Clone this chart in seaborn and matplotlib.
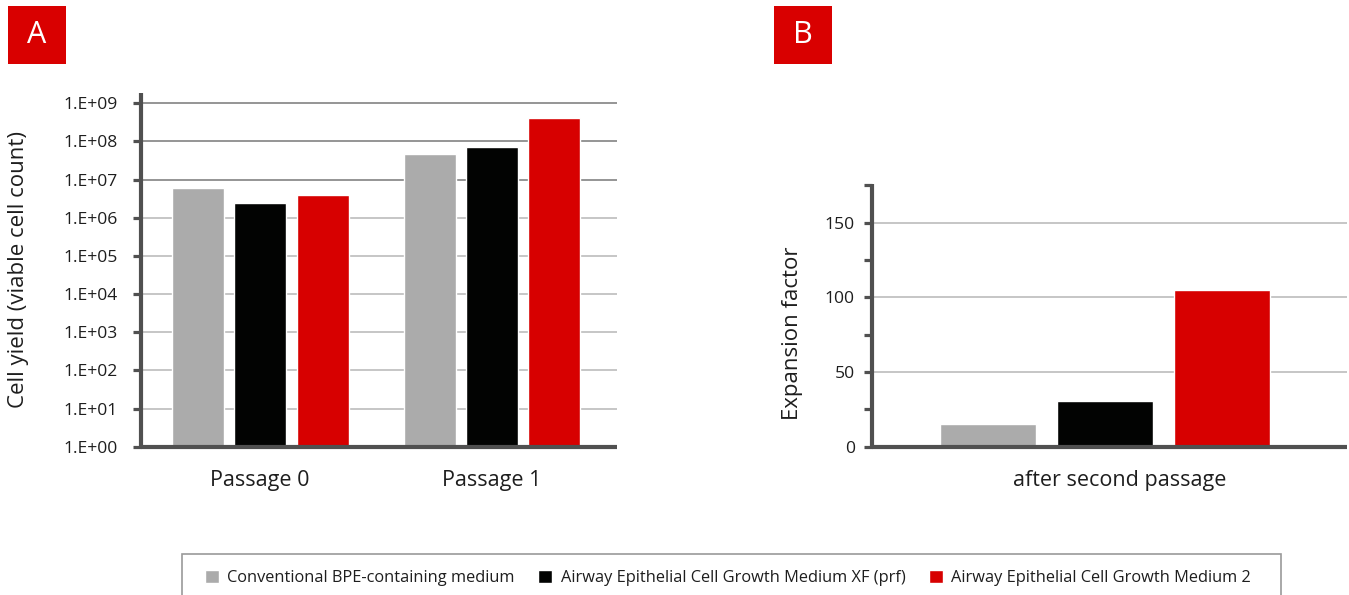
import numpy as np
import pandas as pd
import matplotlib
matplotlib.use("Agg")
import matplotlib.pyplot as plt
from matplotlib.patches import Rectangle
from matplotlib.ticker import FixedLocator, FuncFormatter, MultipleLocator
from matplotlib.transforms import ScaledTranslation
import seaborn as sns

# ---- data ---------------------------------------------------------------
media = [
    "Conventional BPE-containing medium",
    "Airway Epithelial Cell Growth Medium XF (prf)",
    "Airway Epithelial Cell Growth Medium 2",
]
passages = ["Passage 0", "Passage 1"]
yield_passage0 = [6.2e6, 2.4e6, 4.0e6]
yield_passage1 = [4.6e7, 7.0e7, 4.0e8]
expansion_label = ["after second passage"]
expansion_factor = [15.3, 30.7, 105.2]

colors = ["#ababab", "#020302", "#d70000"]
spine_col = "#505050"
text_col = "#1e1e1e"

cell_yield = pd.DataFrame({
    "passage": np.repeat(passages, len(media)),
    "medium": media * len(passages),
    "count": yield_passage0 + yield_passage1,
})
expansion = pd.DataFrame({
    "stage": expansion_label * len(media),
    "medium": media,
    "factor": expansion_factor,
})

# ---- style --------------------------------------------------------------
sns.set_theme(style="white")
plt.rcParams["font.family"] = ["Open Sans", "DejaVu Sans"]
plt.rcParams["text.color"] = text_col
plt.rcParams["axes.labelcolor"] = text_col
plt.rcParams["xtick.color"] = text_col
plt.rcParams["ytick.color"] = text_col

W, H = 1349, 595
fig = plt.figure(figsize=(W / 100, H / 100), dpi=100)


def px_axes(x0, x1, y0, y1):
    """Axes placed by pixel edges (origin top-left)."""
    return fig.add_axes([x0 / W, 1 - y1 / H, (x1 - x0) / W, (y1 - y0) / H])


def style_axes(ax):
    for side in ("top", "right"):
        ax.spines[side].set_visible(False)
    for side in ("left", "bottom"):
        ax.spines[side].set_color(spine_col)
        ax.spines[side].set_linewidth(3.0)
        ax.spines[side].set_capstyle("butt")
    ax.tick_params(axis="y", which="both", direction="out", length=5.8,
                   width=2.3, color=spine_col, left=True)
    ax.tick_params(axis="x", length=0, pad=16.5, labelsize=15.5)
    ax.set_axisbelow(True)


# ---- panel A: cell yield (log scale) -----------------------------------
axA = px_axes(141.3, 617, 93, 446.7)
sns.barplot(data=cell_yield, x="passage", y="count", hue="medium",
            palette=colors, width=0.808, gap=0.168, saturation=1,
            ax=axA, legend=True)
axA.set_yscale("log")
axA.set_ylim(1, 10 ** 9.27)
axA.set_xlim(-0.512, 1.539)
decades = [10.0 ** k for k in range(0, 10)]
axA.yaxis.set_major_locator(FixedLocator(decades))
axA.yaxis.set_minor_locator(FixedLocator([]))
axA.yaxis.set_major_formatter(
    FuncFormatter(lambda v, _: f"1.E+{int(round(np.log10(v))):02d}"))
style_axes(axA)
axA.tick_params(axis="y", labelsize=12.6, pad=11)
axA.yaxis.grid(True, linewidth=1.3)
for k, gl in enumerate(axA.get_ygridlines()):
    gl.set_color("#8c8c8c" if k >= 7 else "#c2c2c2")
axA.get_ygridlines()[0].set_visible(False)
axA.set_xlabel("")
axA.set_ylabel("Cell yield (viable cell count)", fontsize=16)
axA.yaxis.set_label_coords(-0.236, 0.5)

handles, labels = axA.get_legend_handles_labels()
axA.get_legend().remove()

# ---- panel B: expansion factor -----------------------------------------
axB = px_axes(872, 1347, 184, 446.7)
sns.barplot(data=expansion, x="stage", y="factor", hue="medium",
            palette=colors, width=0.8, gap=0.18, saturation=1,
            ax=axB, legend=False)
axB.set_ylim(0, 175.9)
axB.set_xlim(-0.531, 0.5516)
axB.yaxis.set_major_locator(FixedLocator([0, 50, 100, 150]))
axB.yaxis.set_minor_locator(MultipleLocator(25))
style_axes(axB)
axB.tick_params(axis="y", labelsize=12.6, pad=6.5)
axB.yaxis.grid(True, which="major", color="#c2c2c2", linewidth=1.3)
axB.get_ygridlines()[0].set_visible(False)
axB.set_xlabel("")
axB.set_ylabel("Expansion factor", fontsize=16)
axB.yaxis.set_label_coords(-0.146, 0.433)
for lab in axB.get_xticklabels():
    lab.set_transform(lab.get_transform()
                      + ScaledTranslation(0.15, 0, fig.dpi_scale_trans))

# ---- panel tags ---------------------------------------------------------
for tag, x0 in (("A", 8), ("B", 774)):
    fig.patches.append(Rectangle((x0 / W, 1 - 64 / H), 58 / W, 58 / H,
                                 transform=fig.transFigure,
                                 facecolor="#d90000", edgecolor="none"))
    fig.text((x0 + 29) / W, 1 - 35 / H, tag, color="white", fontsize=22,
             ha="center", va="center")

# ---- shared legend ------------------------------------------------------
fig.patches.append(Rectangle((182 / W, -0.05), (1281 - 182) / W,
                             0.05 + 1 - 554 / H, transform=fig.transFigure,
                             facecolor="none", edgecolor="#9a9a9a",
                             linewidth=1.2))
fig.legend(handles, labels, loc="center left",
           bbox_to_anchor=(205 / W, 1 - 578 / H), ncol=3, frameon=False,
           fontsize=11.8, handlelength=0.85, handleheight=0.85,
           handletextpad=0.5, columnspacing=1.45, borderpad=0,
           borderaxespad=0)

fig.savefig("out.png", dpi=100)
